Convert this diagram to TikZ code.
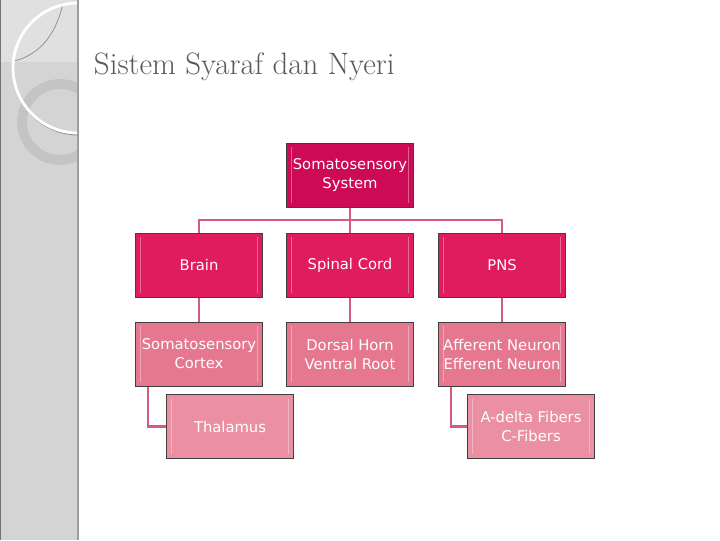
\documentclass[tikz,border=0pt]{standalone}
\usepackage{fontspec}
\newfontfamily\boxfont{DejaVu Sans}
\usetikzlibrary{positioning}

\definecolor{pinkA}{HTML}{CC0A55}
\definecolor{pinkB}{HTML}{E01C5E}
\definecolor{pinkC}{HTML}{E5788F}
\definecolor{pinkD}{HTML}{EB90A3}
\definecolor{linkpink}{HTML}{D65A7E}
\definecolor{titlegray}{HTML}{595959}

\begin{document}
\begin{tikzpicture}
                [x=0.025cm, y=-0.025cm,
                box/.style={draw=black!75, line width=0.7pt, text=white,
                    minimum width=3.175cm, minimum height=1.6cm,
                    inner sep=1pt, align=center,
                    font=\boxfont\fontsize{10.5}{13.5}\selectfont,
                    path picture={
                        \draw[white, opacity=.35, line width=1pt]
                            ([xshift=3.5pt,yshift=-3pt]path picture bounding box.north west)
                            -- ([xshift=3.5pt,yshift=3pt]path picture bounding box.south west);
                        \draw[white, opacity=.35, line width=1pt]
                            ([xshift=-3.5pt,yshift=-3pt]path picture bounding box.north east)
                            -- ([xshift=-3.5pt,yshift=3pt]path picture bounding box.south east);
                    }},
                link/.style={linkpink, line width=1.5pt},
                ]
                \useasboundingbox (0,0) rectangle (720,540);

                % side stripe
                \fill[black!17] (0,0) rectangle (78,540);
                \begin{scope}
                    \clip (0,0) rectangle (78,540);
                    \fill[black!12] (0,0) rectangle (78,62);
                    \draw[black!23, line width=7pt] (60,122) circle (38);
                    \draw[black!45, line width=0.5pt] (63,3)
                        .. controls (55,40) and (35,56) .. (14,61);
                    \draw[black!45, line width=0.7pt] (79,69) circle (66);
                    \draw[white, line width=2pt] (78,68) circle (65);
                \end{scope}
                \draw[black!38, line width=1pt] (78,0) -- (78,540);
                \draw[black!55, line width=0.8pt] (0.5,0) -- (0.5,540);

                \node[anchor=base west, text=titlegray,
                    font=\fontsize{22}{26}\selectfont] (title) at (89,74)
                    {Sistem Syaraf dan Nyeri};

                % chart
                \node[box, fill=pinkA] (sys) at (350,175) {Somatosensory\\System};

                \node[box, fill=pinkB] (brain) at (199,265) {Brain};
                \node[box, fill=pinkB] (spinal) at (350,265) {Spinal Cord};
                \node[box, fill=pinkB] (pns) at (502,265) {PNS};

                \node[box, fill=pinkC] (cortex) at (199,354) {Somatosensory\\Cortex};
                \node[box, fill=pinkC] (horn) at (350,354) {Dorsal Horn\\Ventral Root};
                \node[box, fill=pinkC] (neuron) at (502,354) {Afferent Neuron\\Efferent Neuron};

                \node[box, fill=pinkD] (thal) at (230,426.5) {Thalamus};
                \node[box, fill=pinkD] (fibers) at (531,426.5) {A-delta Fibers\\C-Fibers};

                \coordinate (bus) at (350,220);
                \draw[link] (sys) -- (bus);
                \draw[link] (bus) -| (brain);
                \draw[link] (bus) -| (pns);
                \draw[link] (bus) -- (spinal);

                \draw[link] (brain) -- (cortex);
                \draw[link] (spinal) -- (horn);
                \draw[link] (pns) -- (neuron);

                \draw[link] ([xshift=0.325cm]cortex.south west) |- (thal);
                \draw[link] ([xshift=0.325cm]neuron.south west) |- (fibers);
\end{tikzpicture}
\end{document}
